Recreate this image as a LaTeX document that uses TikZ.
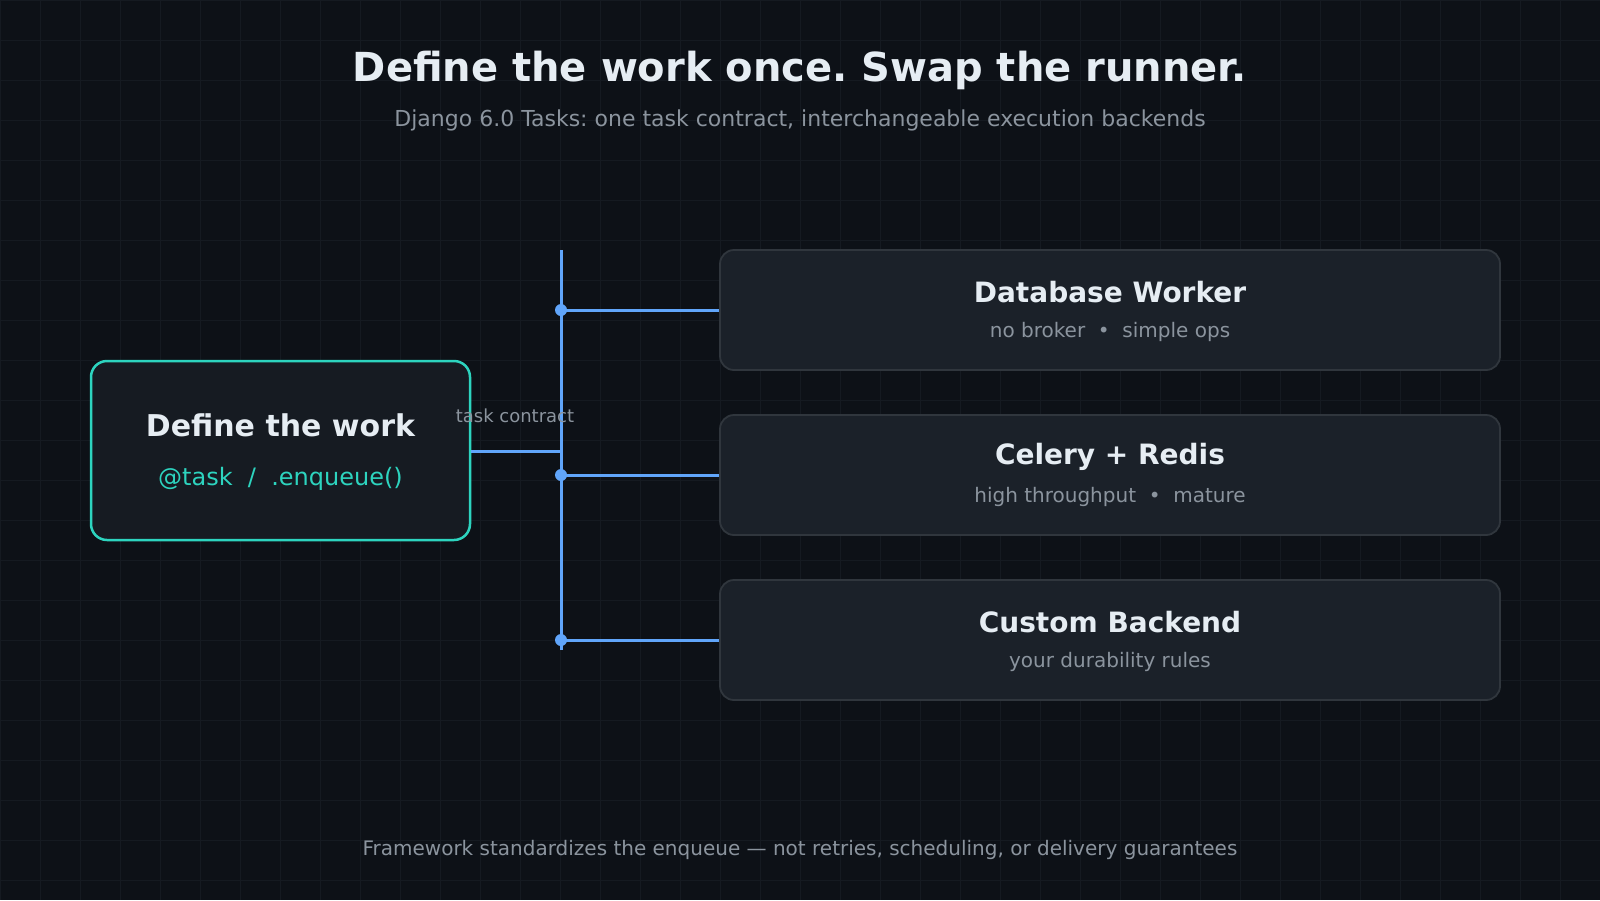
\documentclass[tikz,border=0pt]{standalone}
\usepackage{fontspec}
\setmainfont{DejaVu Sans}
\frenchspacing
\definecolor{bgc}{HTML}{0D1117}
\definecolor{gridc}{HTML}{151A21}
\definecolor{lfill}{HTML}{161B22}
\definecolor{rfill}{HTML}{1B2129}
\definecolor{rstroke}{HTML}{30363D}
\definecolor{tealc}{HTML}{2DD4BF}
\definecolor{bluec}{HTML}{60A5FA}
\definecolor{titlec}{HTML}{E6EDF3}
\definecolor{mutedc}{HTML}{8B949E}
\tikzset{
  gridline/.style={draw=gridc, line width=1pt},
  rbox/.style={draw=rstroke, fill=rfill, line width=1.8pt, rounded corners=14pt, minimum width=780pt, minimum height=120pt, inner sep=0pt},
  wbox/.style={draw=tealc, fill=lfill, line width=2.5pt, rounded corners=16pt, minimum width=379pt, minimum height=179pt, inner sep=0pt},
  wire/.style={draw=bluec, line width=3pt},
  jdot/.style={circle, fill=bluec, inner sep=0pt, minimum size=12pt},
  txt/.style={anchor=base, inner sep=0pt},
  bigtitle/.style={txt, text=titlec, font=\fontsize{40}{48}\selectfont\bfseries},
  subt/.style={txt, text=mutedc, font=\fontsize{22}{26}\selectfont},
  boxtitle/.style={txt, text=titlec, font=\fontsize{28}{33}\selectfont\bfseries},
  worktitle/.style={txt, text=titlec, font=\fontsize{30}{36}\selectfont\bfseries},
  boxsub/.style={txt, text=mutedc, font=\fontsize{20}{24}\selectfont},
  footnote/.style={txt, text=mutedc, font=\fontsize{20}{24}\selectfont},
  codetxt/.style={txt, text=tealc, font=\fontsize{24}{29}\selectfont},
  smalllbl/.style={txt, text=mutedc, font=\fontsize{18}{21}\selectfont},
}
\begin{document}
\begin{tikzpicture}[x=1pt,y=-1pt]
\useasboundingbox (0,0) rectangle (1600,900);
\fill[bgc] (0,0) rectangle (1600,900);
\foreach \gx in {0,40,...,1600} {\draw[gridline] (\gx,0) -- (\gx,900);}
\foreach \gy in {0,40,...,880} {\draw[gridline] (0,\gy) -- (1600,\gy);}

% title
\node[bigtitle] (title) at (800,81) {Define the work once. Swap the runner.};
\node[subt] (subtitle) at (800,126) {Django 6.0 Tasks: one task contract, interchangeable execution backends};

% left box
\node[wbox] (work) at (280.5,450.5) {};
\node[worktitle] (worktxt) at (280.5,436) {Define the work};
\node[codetxt] (workcode) at (280.5,485) {@task\ \ /\ \ .enqueue()};

% right boxes
\node[rbox] (db) at (1110,310) {};
\node[rbox] (celery) at (1110,475) {};
\node[rbox] (custom) at (1110,640) {};

\node[boxtitle] (dbt) at (1110,302) {Database Worker};
\node[boxsub] (dbs) at (1110,337) {no broker\ \ •\ \ simple ops};
\node[boxtitle] (celt) at (1110,464) {Celery + Redis};
\node[boxsub] (cels) at (1110,502) {high throughput\ \ •\ \ mature};
\node[boxtitle] (cust) at (1110,632) {Custom Backend};
\node[boxsub] (cuss) at (1110,667) {your durability rules};

% bus
\coordinate (bustop) at (561,250);
\coordinate (busbot) at (561,650);
\coordinate (jw) at (561,451);
\coordinate (j1) at (561,310);
\coordinate (j2) at (561,475);
\coordinate (j3) at (561,640);
\draw[wire] (bustop) -- (busbot);
\draw[wire] (work.east |- jw) -- (jw);
\draw[wire] (j1) -- (db.west |- j1);
\draw[wire] (j2) -- (celery.west |- j2);
\draw[wire] (j3) -- (custom.west |- j3);
\node[jdot] (d1) at (j1) {};
\node[jdot] (d2) at (j2) {};
\node[jdot] (d3) at (j3) {};

\node[smalllbl] (contract) at (515,422) {task contract};

% footer
\node[footnote] (footer) at (800,855) {Framework standardizes the enqueue — not retries, scheduling, or delivery guarantees};
\end{tikzpicture}
\end{document}
